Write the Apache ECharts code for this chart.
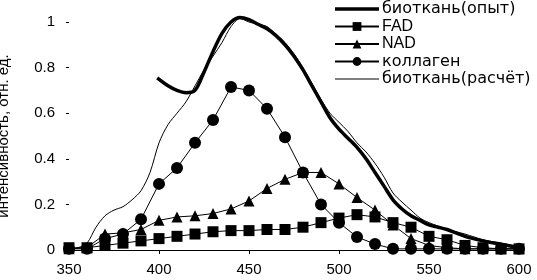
<!DOCTYPE html>
<html>
<head>
<meta charset="utf-8">
<script src="https://cdn.jsdelivr.net/npm/echarts@6/dist/echarts.min.js"></script>
<style>
  html, body { margin: 0; padding: 0; background: #fff; }
  #chart { width: 537px; height: 280px; }
</style>
</head>
<body>
<div id="chart"></div>
<script>
// длины волн для маркерных кривых, нм
var wavelengths = [350, 360, 370, 380, 390, 400, 410, 420, 430, 440, 450, 460, 470,
                   480, 490, 500, 510, 520, 530, 540, 550, 560, 570, 580, 590, 600];
var fad = [0.01, 0.01, 0.02, 0.03, 0.04, 0.05, 0.06, 0.07, 0.08, 0.085, 0.085, 0.09, 0.09,
           0.10, 0.12, 0.14, 0.155, 0.145, 0.12, 0.10, 0.06, 0.045, 0.02, 0.01, 0.005, 0.005];
var nad = [0.005, 0.01, 0.07, 0.075, 0.09, 0.13, 0.145, 0.15, 0.16, 0.18, 0.215, 0.27, 0.31,
           0.34, 0.34, 0.29, 0.23, 0.175, 0.11, 0.05, 0.02, 0.01, 0.005, 0.005, 0.005, 0.005];
var collagen = [0.005, 0.005, 0.05, 0.07, 0.135, 0.29, 0.36, 0.47, 0.57, 0.715, 0.70, 0.62, 0.495,
                0.34, 0.20, 0.12, 0.057, 0.026, 0.005, 0.005, 0.005, 0.005, 0.005, 0.005, 0.005, 0.005];

// биоткань (опыт) - толстая линия
var expX = [399, 405, 410, 415, 420, 425, 430, 435, 440, 445, 450, 455, 460, 465, 470, 475, 480,
            485, 490, 495, 500, 505, 510, 515, 520, 525, 530, 535, 540, 545, 550, 555, 560, 570, 580, 590, 600];
var expY = [0.755, 0.72, 0.70, 0.69, 0.70, 0.78, 0.87, 0.95, 1.0, 1.02, 1.01, 0.99, 0.97, 0.94, 0.90, 0.85, 0.79,
            0.72, 0.65, 0.58, 0.53, 0.49, 0.45, 0.40, 0.34, 0.28, 0.22, 0.18, 0.15, 0.13, 0.11, 0.10, 0.09, 0.06, 0.04, 0.025, 0.01];

// биоткань (расчёт) - тонкая линия
var calcX = [350, 355, 360, 365, 370, 375, 380, 385, 390, 395, 400, 405, 410, 415, 420, 425, 430, 435, 440,
             445, 450, 455, 460, 465, 470, 475, 480, 485, 490, 495, 500, 505, 510, 515, 520, 525, 530, 535,
             540, 545, 550, 555, 560, 570, 580, 590, 600];
var calcY = [0.0, 0.01, 0.03, 0.10, 0.15, 0.175, 0.19, 0.22, 0.26, 0.34, 0.47, 0.55, 0.60, 0.65, 0.72, 0.79, 0.85, 0.91, 0.98,
             1.015, 1.0, 0.99, 0.98, 0.945, 0.91, 0.86, 0.80, 0.73, 0.66, 0.60, 0.56, 0.52, 0.47, 0.43, 0.38, 0.32, 0.25, 0.21,
             0.175, 0.14, 0.12, 0.105, 0.09, 0.07, 0.045, 0.03, 0.015];

var xTicks = [350, 400, 450, 500, 550, 600];

function pairs(xs, ys) {
    return xs.map(function (x, i) { return [x, ys[i]] })
}

var font = 'Liberation Sans, Arial, sans-serif'
var cyr = { fontFamily: 'DejaVu Sans', fontSize: 16 }

function markerSeries(name, values, symbol, size) {
    return {
        name: name,
        type: 'line',
        data: pairs(wavelengths, values),
        symbol: symbol,
        symbolSize: size,
        showAllSymbol: true,
        clip: false,
        lineStyle: { color: '#000', width: 1 },
        itemStyle: { color: '#000', borderWidth: 0 },
        emphasis: { disabled: true }
    }
}

var option = {
    backgroundColor: '#fff',
    animation: false,
    grid: { left: 69, right: 18, top: 22, bottom: 30, containLabel: false, outerBoundsMode: 'none' },
    legend: {
        orient: 'vertical',
        left: 334,
        top: 1,
        padding: 0,
        itemGap: 1.5,
        itemWidth: 44,
        itemHeight: 11,
        selectedMode: false,
        textStyle: { fontFamily: font, fontSize: 16, color: '#000', lineHeight: 14, padding: [0, 0, 0, -2] },
        data: [
            { name: 'биоткань(опыт)', icon: 'path://M0,0h44v3.5h-44z', textStyle: cyr },
            { name: 'FAD' },
            { name: 'NAD' },
            { name: 'коллаген', textStyle: cyr },
            { name: 'биоткань(расчёт)', icon: 'path://M0,0h88v2h-88z', textStyle: cyr }
        ]
    },
    xAxis: {
        type: 'value',
        min: 350,
        max: 600,
        interval: 50,
        splitLine: { show: false },
        axisLine: { show: true, lineStyle: { color: '#000', width: 1 } },
        axisTick: { show: true, length: 4, lineStyle: { color: '#000' } },
        axisLabel: {
            margin: 12, fontFamily: font, fontSize: 15, color: '#000',
            customValues: xTicks
        }
    },
    yAxis: {
        type: 'value',
        min: 0,
        max: 1,
        interval: 0.2,
        name: 'интенсивность, отн. ед.',
        nameLocation: 'middle',
        nameGap: 58,
        nameRotate: 90,
        nameTextStyle: { fontFamily: font, fontSize: 15, color: '#000' },
        splitLine: { show: false },
        axisLine: { show: false },
        axisTick: { show: true, length: 3, lineStyle: { color: '#000' } },
        axisLabel: { margin: 14, fontFamily: font, fontSize: 15, color: '#000' }
    },
    series: [
        {
            name: 'биоткань(опыт)',
            type: 'line',
            data: pairs(expX, expY),
            smooth: 0.3,
            symbol: 'none',
            clip: false,
            lineStyle: { color: '#000', width: 3.5 },
            itemStyle: { color: '#000' },
            emphasis: { disabled: true }
        },
        markerSeries('коллаген', collagen, 'circle', 12),
        markerSeries('NAD', nad, 'triangle', 11),
        markerSeries('FAD', fad, 'rect', 11),
        {
            name: 'биоткань(расчёт)',
            type: 'line',
            data: pairs(calcX, calcY),
            smooth: 0.3,
            symbol: 'none',
            clip: false,
            lineStyle: { color: '#000', width: 1 },
            itemStyle: { color: '#000' },
            emphasis: { disabled: true }
        }
    ]
}

var chart = echarts.init(document.getElementById('chart'), null, { renderer: 'canvas' })
chart.setOption(option)
</script>
</body>
</html>
